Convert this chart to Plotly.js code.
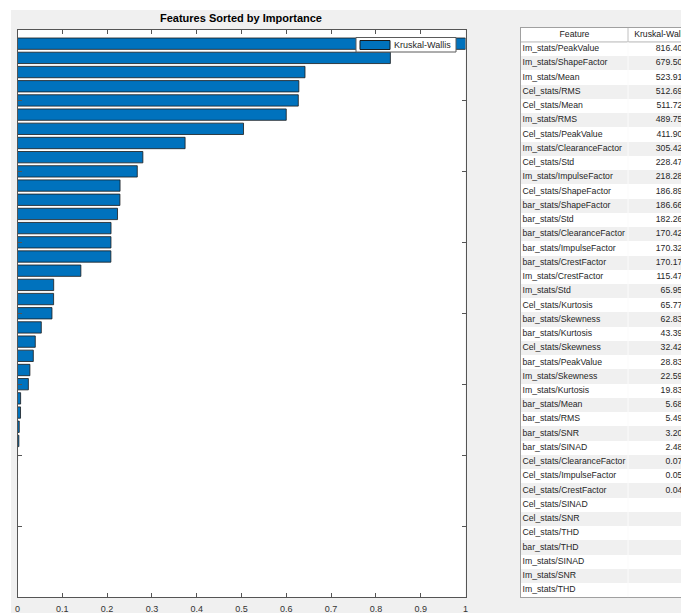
<!DOCTYPE html>
<html>
<head>
<meta charset="utf-8">
<script src="https://cdn.plot.ly/plotly-3.0.1.min.js"></script>
<style>
  html, body { margin: 0; padding: 0; overflow: hidden; background: #ffffff; }
  #chart { width: 695px; height: 613px; }
</style>
</head>
<body>
<div id="chart"></div>
<script>
// ---- Data ----
const features = [
  "Im_stats/PeakValue", "Im_stats/ShapeFactor", "Im_stats/Mean", "Cel_stats/RMS",
  "Cel_stats/Mean", "Im_stats/RMS", "Cel_stats/PeakValue", "Im_stats/ClearanceFactor",
  "Cel_stats/Std", "Im_stats/ImpulseFactor", "Cel_stats/ShapeFactor", "bar_stats/ShapeFactor",
  "bar_stats/Std", "bar_stats/ClearanceFactor", "bar_stats/ImpulseFactor", "bar_stats/CrestFactor",
  "Im_stats/CrestFactor", "Im_stats/Std", "Cel_stats/Kurtosis", "bar_stats/Skewness",
  "bar_stats/Kurtosis", "Cel_stats/Skewness", "bar_stats/PeakValue", "Im_stats/Skewness",
  "Im_stats/Kurtosis", "bar_stats/Mean", "bar_stats/RMS", "bar_stats/SNR",
  "bar_stats/SINAD", "Cel_stats/ClearanceFactor", "Cel_stats/ImpulseFactor", "Cel_stats/CrestFactor",
  "Cel_stats/SINAD", "Cel_stats/SNR", "Cel_stats/THD", "bar_stats/THD",
  "Im_stats/SINAD", "Im_stats/SNR", "Im_stats/THD"
];
const kruskalWallis = [
  816.4006, 679.5044, 523.9171, 512.6944,
  511.7222, 489.7532, 411.9044, 305.4283,
  228.4700, 218.2882, 186.8917, 186.6649,
  182.2648, 170.4218, 170.3209, 170.1795,
  115.4795, 65.9535, 65.7795, 62.8306,
  43.3932, 32.4223, 28.8306, 22.5930,
  19.8306, 5.6871, 5.4995, 3.2063,
  2.4831, 0.0703, 0.0517, 0.0460,
  null, null, null, null,
  null, null, null
];
const tableHeader = ["Feature", "Kruskal-Wallis"];
const xTicks = [0, 0.1, 0.2, 0.3, 0.4, 0.5, 0.6, 0.7, 0.8, 0.9, 1];
const yTicks = [0, 5, 10, 15, 20, 25, 30, 35, 40];

// ---- Derived ----
const maxScore = Math.max(...kruskalWallis.filter(v => v !== null));
const importance = kruskalWallis.map(v => v === null ? null : v / maxScore);
const rank = features.map((_, i) => i + 1);
const scoreText = kruskalWallis.map(v => v === null ? "" : v.toFixed(4));
const rowFill = features.map((_, i) => i % 2 === 0 ? "#ffffff" : "#f0f0f0");

// ---- Geometry helpers (pixels -> paper) ----
const W = 695, H = 613;
const px = x => x / W;
const py = y => (H - y) / H;

// table layout space (pixels inside table)
const COL1 = 107, TABLE_W = 174;

const FONT = "Liberation Sans, Arial, sans-serif";
const TFS = 8.7;

const bars = {
  type: "bar",
  orientation: "h",
  x: importance,
  y: rank,
  width: 0.8,
  marker: { color: "#0072BD", line: { color: "#1a1a1a", width: 0.8 } },
  showlegend: false,
  hoverinfo: "x+y",
  xaxis: "x", yaxis: "y"
};

// table: row stripes, feature names, scores, header
const rowStripes = {
  type: "bar", orientation: "h",
  x: features.map(() => TABLE_W), y: rank, width: 1,
  marker: { color: rowFill, line: { width: 0 } },
  hoverinfo: "skip", showlegend: false,
  xaxis: "x2", yaxis: "y2"
};
const featureText = {
  type: "scatter", mode: "text",
  x: features.map(() => 1.5), y: rank, text: features,
  textposition: "middle right",
  textfont: { family: FONT, size: TFS, color: "#262626" },
  hoverinfo: "skip", showlegend: false,
  xaxis: "x2", yaxis: "y2"
};
const scoreCol = {
  type: "scatter", mode: "text",
  x: features.map(() => TABLE_W - 3), y: rank, text: scoreText,
  textposition: "middle left",
  textfont: { family: FONT, size: TFS, color: "#262626" },
  hoverinfo: "skip", showlegend: false,
  xaxis: "x2", yaxis: "y2"
};
const headerText = {
  type: "scatter", mode: "text",
  x: [COL1 / 2, (COL1 + TABLE_W) / 2], y: [0, 0], text: tableHeader,
  textposition: "middle center",
  textfont: { family: FONT, size: TFS, color: "#1a1a1a" },
  hoverinfo: "skip", showlegend: false,
  xaxis: "x2", yaxis: "y2"
};

const layout = {
  width: W, height: H,
  margin: { l: 0, r: 0, t: 0, b: 0 },
  paper_bgcolor: "#f0f0f0",
  plot_bgcolor: "#ffffff",
  font: { family: FONT, size: 9, color: "#262626" },
  bargap: 0,
  title: {
    text: "Features Sorted by Importance",
    x: px(241), xanchor: "center",
    y: py(18.5), yanchor: "middle",
    xref: "paper", yref: "paper",
    font: { family: FONT, size: 11, color: "#000000", weight: "bold" }
  },
  xaxis: {
    domain: [px(17.5), px(465.5)],
    range: [0, 1],
    tickvals: xTicks,
    ticktext: xTicks.map(String),
    ticks: "inside", ticklen: 4, tickcolor: "#555555", tickwidth: 1,
    showline: true, linecolor: "#555555", linewidth: 1,
    mirror: "allticks",
    layer: "above traces",
    ticklabelstandoff: 3,
    showgrid: false, zeroline: false,
    tickfont: { family: FONT, size: 9, color: "#333333" },
    fixedrange: true
  },
  yaxis: {
    domain: [py(597), py(29.5)],
    range: [40, 0],
    tickvals: yTicks,
    ticks: "inside", ticklen: 4, tickcolor: "#555555", tickwidth: 1,
    showline: true, linecolor: "#555555", linewidth: 1,
    mirror: "allticks",
    layer: "above traces",
    showticklabels: false,
    showgrid: false, zeroline: false,
    fixedrange: true
  },
  xaxis2: {
    domain: [px(521), 1],
    range: [0, TABLE_W],
    anchor: "y2",
    showline: true, linecolor: "#a0a0a0", linewidth: 1, mirror: true,
    showticklabels: false, ticks: "", showgrid: false, zeroline: false,
    fixedrange: true
  },
  yaxis2: {
    domain: [py(597.3), py(27.7)],
    range: [39.5, -0.5],
    anchor: "x2",
    showline: true, linecolor: "#a0a0a0", linewidth: 1, mirror: true,
    showticklabels: false, ticks: "", showgrid: false, zeroline: false,
    fixedrange: true
  },
  shapes: [
    // white window margins (top strip, left strip)
    { type: "rect", xref: "paper", yref: "paper", x0: 0, x1: 1, y0: py(10), y1: 1,
      fillcolor: "#ffffff", line: { width: 0 }, layer: "below" },
    { type: "rect", xref: "paper", yref: "paper", x0: 0, x1: px(11), y0: 0, y1: 1,
      fillcolor: "#ffffff", line: { width: 0 }, layer: "below" },
    // table: header bottom border and column dividers
    { type: "line", xref: "x2", yref: "y2", x0: 0, x1: TABLE_W, y0: 0.5, y1: 0.5,
      line: { color: "#b4b4b4", width: 1 }, layer: "above" },
    { type: "line", xref: "x2", yref: "y2", x0: COL1, x1: COL1, y0: -0.5, y1: 0.5,
      line: { color: "#c0c0c0", width: 1 }, layer: "above" },
    { type: "line", xref: "x2", yref: "y2", x0: COL1, x1: COL1, y0: 0.5, y1: 39.5,
      line: { color: "#fbfbfb", width: 1 }, layer: "above" },
    // legend box
    { type: "rect", xref: "paper", yref: "paper", x0: px(356), x1: px(456), y0: py(52), y1: py(37.5),
      fillcolor: "#ffffff", line: { color: "#5a5a5a", width: 1 }, layer: "above" },
    // legend swatch
    { type: "rect", xref: "paper", yref: "paper", x0: px(360), x1: px(390), y0: py(49.5), y1: py(40.5),
      fillcolor: "#0072BD", line: { color: "#1a1a1a", width: 1 }, layer: "above" }
  ],
  annotations: [
    { text: "Kruskal-Wallis", xref: "paper", yref: "paper", x: px(392), y: py(45),
      xanchor: "left", yanchor: "middle", showarrow: false,
      font: { family: FONT, size: 9, color: "#262626" } }
  ],
  showlegend: false
};

Plotly.newPlot("chart", [bars, rowStripes, featureText, scoreCol, headerText], layout,
  { displayModeBar: false, staticPlot: true });
</script>
</body>
</html>
